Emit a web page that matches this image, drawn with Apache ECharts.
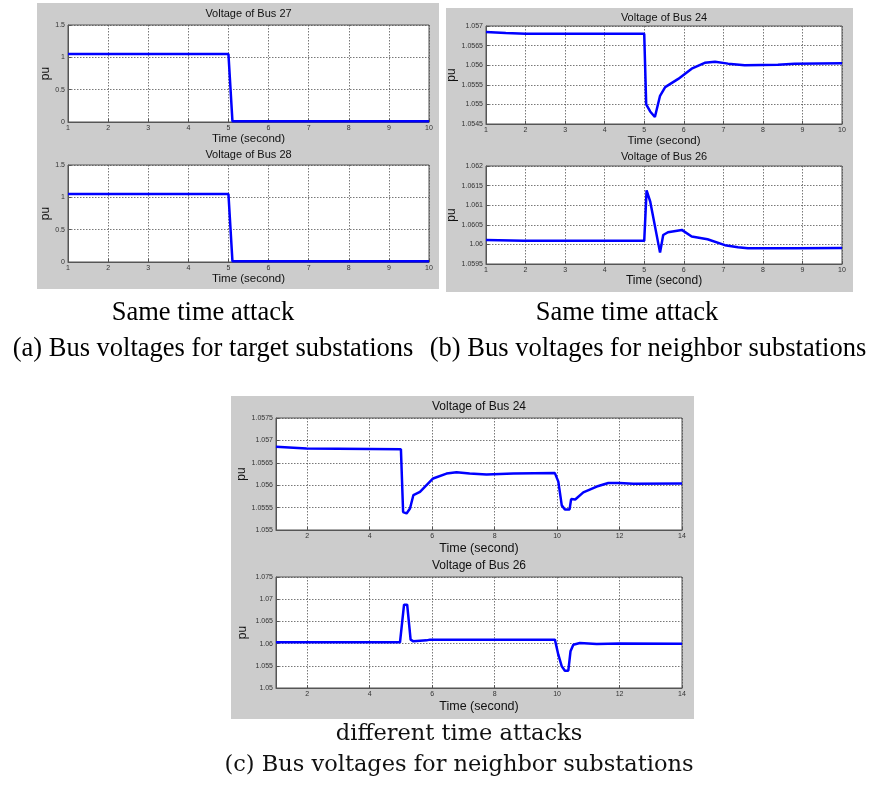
<!DOCTYPE html>
<html>
<head>
<meta charset="utf-8">
<script src="https://cdn.jsdelivr.net/npm/echarts@6/dist/echarts.min.js"></script>
<style>
html,body{margin:0;padding:0;background:#fff;}
#chart{width:873px;height:785px;}
</style>
</head>
<body>
<div id="chart"></div>
<script>
// ---- data ----
const bus27Time = [1, 5.0, 5.1, 10];
const bus27Volt = [1.05, 1.05, 0.01, 0.01];
const bus28Time = [1, 5.0, 5.1, 10];
const bus28Volt = [1.05, 1.05, 0.01, 0.01];

const sameBus24Time = [1, 1.5, 2, 5.0, 5.05, 5.15, 5.27, 5.4, 5.53, 5.86, 6.2, 6.53, 6.79, 7.12, 7.54, 8.38, 8.8, 10];
const sameBus24Volt = [1.05685, 1.05682, 1.0568, 1.0568, 1.0550, 1.05482, 1.05468, 1.05522, 1.05544, 1.05565, 1.05591, 1.05606, 1.05609, 1.05604, 1.0560, 1.05601, 1.05604, 1.05605];

const sameBus26Time = [1, 1.95, 5.0, 5.06, 5.15, 5.4, 5.48, 5.6, 5.95, 6.2, 6.6, 7.04, 7.37, 7.62, 8.8, 10];
const sameBus26Volt = [1.06011, 1.06009, 1.06009, 1.06138, 1.0611, 1.05979, 1.06024, 1.06031, 1.06037, 1.0602, 1.06013, 1.05998, 1.05993, 1.0599, 1.0599, 1.05991];

const diffBus24Time = [1, 1.98, 5.0, 5.07, 5.18, 5.29, 5.4, 5.61, 6.03, 6.46, 6.78, 7.2, 7.74, 8.6, 9.93, 10.04, 10.15, 10.25, 10.4, 10.45, 10.58, 10.84, 11.27, 11.64, 12.0, 12.44, 14];
const diffBus24Volt = [1.05686, 1.05682, 1.0568, 1.0554, 1.05537, 1.05548, 1.05578, 1.05585, 1.05615, 1.05626, 1.05629, 1.05626, 1.05624, 1.05626, 1.05627, 1.05608, 1.05555, 1.05546, 1.05546, 1.05569, 1.05568, 1.05584, 1.05597, 1.05605, 1.05605, 1.05603, 1.05604];

const diffBus26Time = [1, 4.97, 5.1, 5.2, 5.31, 5.4, 5.82, 5.93, 9.93, 10.04, 10.15, 10.25, 10.36, 10.43, 10.52, 10.73, 11.27, 12.0, 14];
const diffBus26Volt = [1.0603, 1.0603, 1.06877, 1.06877, 1.06089, 1.06051, 1.06073, 1.06089, 1.06089, 1.0575, 1.05488, 1.0539, 1.0539, 1.05826, 1.05976, 1.06014, 1.05991, 1.06, 1.05998];

const titles = ['Voltage of Bus 27', 'Voltage of Bus 28', 'Voltage of Bus 24', 'Voltage of Bus 26', 'Voltage of Bus 24', 'Voltage of Bus 26'];
const xLabelText = 'Time (second)';
const yLabelText = 'pu';
const captionSame = 'Same time attack';
const captionA = '(a) Bus voltages for target substations';
const captionB = '(b) Bus voltages for neighbor substations';
const captionDiff = 'different time attacks';
const captionC = '(c) Bus voltages for neighbor substations';

// y-axis ranges [min, max, interval]
const yRanges = [[0, 1.5, 0.5], [0, 1.5, 0.5], [1.0545, 1.057, 0.0005], [1.0595, 1.062, 0.0005], [1.055, 1.0575, 0.0005], [1.05, 1.075, 0.005]];

// ---- layout ----
const grids = [
  {left: 68, top: 25, width: 361, height: 97},
  {left: 68, top: 165, width: 361, height: 97},
  {left: 486, top: 26, width: 356, height: 98},
  {left: 486, top: 166, width: 356, height: 98},
  {left: 276, top: 418, width: 406, height: 112},
  {left: 276, top: 577, width: 406, height: 111}
];
const titleY = [14, 155, 18, 157, 407, 566];
const yNameGap = [16, 16, 22, 22, 27, 27];
const xNameGap = [9, 10, 9, 11, 12, 12];
const titleSize = [11, 11, 11, 11, 12, 12];
const nameSize = [11.5, 11.5, 11.5, 12, 12.5, 12.5];

function zip(a, b) { return a.map((v, i) => [v, b[i]]); }
const seriesData = [
  zip(bus27Time, bus27Volt), zip(bus28Time, bus28Volt),
  zip(sameBus24Time, sameBus24Volt), zip(sameBus26Time, sameBus26Volt),
  zip(diffBus24Time, diffBus24Volt), zip(diffBus26Time, diffBus26Volt)
];

const fmtY = v => String(parseFloat(v.toFixed(6)));
const gridLine = {show: true, lineStyle: {color: '#555', type: [1.5, 1.5], width: 0.8}};

const xAxes = [], yAxes = [], series = [];
for (let i = 0; i < 6; i++) {
  const isC = i >= 4;
  const x = {
    type: 'value', gridIndex: i, min: 1, max: isC ? 14 : 10,
    name: xLabelText, nameLocation: 'middle', nameGap: xNameGap[i],
    nameTextStyle: {fontFamily: 'Liberation Sans', fontSize: nameSize[i], color: '#111'},
    axisLine: {show: true, onZero: false, lineStyle: {color: '#555'}},
    axisTick: {show: true, inside: true, length: 3, lineStyle: {color: '#555'}},
    axisLabel: {fontFamily: 'Liberation Sans', fontSize: 7, color: '#333', margin: 3,
      formatter: isC ? (v => (v === 1 ? '' : String(v))) : (v => String(v)), showMinLabel: true, showMaxLabel: true},
    splitLine: gridLine
  };
  if (isC) { x.splitNumber = 6; } else { x.interval = 1; }
  xAxes.push(x);
  yAxes.push({
    type: 'value', gridIndex: i, min: yRanges[i][0], max: yRanges[i][1], interval: yRanges[i][2],
    name: yLabelText, nameLocation: 'middle', nameGap: yNameGap[i], nameRotate: 90,
    nameTextStyle: {fontFamily: 'Liberation Sans', fontSize: 12, color: '#111'},
    axisLine: {show: true, lineStyle: {color: '#555'}},
    axisTick: {show: true, inside: true, length: 3, lineStyle: {color: '#555'}},
    axisLabel: {fontFamily: 'Liberation Sans', fontSize: 7, color: '#333', margin: 3, formatter: fmtY},
    splitLine: gridLine
  });
  series.push({
    type: 'line', xAxisIndex: i, yAxisIndex: i, data: seriesData[i],
    showSymbol: false, symbol: 'none', animation: false,
    lineStyle: {color: '#0000ff', width: 2.5}
  });
}

const graphics = [
  {type: 'rect', z: -10, shape: {x: 37, y: 3, width: 402, height: 286}, style: {fill: '#cccccc'}},
  {type: 'rect', z: -10, shape: {x: 446, y: 8, width: 407, height: 284}, style: {fill: '#cccccc'}},
  {type: 'rect', z: -10, shape: {x: 231, y: 396, width: 463, height: 323}, style: {fill: '#cccccc'}}
];
for (let i = 0; i < 6; i++) {
  const g = grids[i];
  graphics.push({type: 'text', z: 10, x: g.left + g.width / 2, y: titleY[i],
    style: {text: titles[i], align: 'center', verticalAlign: 'middle', fill: '#111',
      font: titleSize[i] + 'px "Liberation Sans"'}});
}
const capFont = '26.5px "Liberation Serif"';
const capFontC = '22.5px "DejaVu Serif"';
graphics.push(
  {type: 'text', x: 203, y: 313, style: {text: captionSame, align: 'center', verticalAlign: 'middle', fill: '#000', font: capFont}},
  {type: 'text', x: 627, y: 313, style: {text: captionSame, align: 'center', verticalAlign: 'middle', fill: '#000', font: capFont}},
  {type: 'text', x: 213, y: 349, style: {text: captionA, align: 'center', verticalAlign: 'middle', fill: '#000', font: capFont}},
  {type: 'text', x: 648, y: 349, style: {text: captionB, align: 'center', verticalAlign: 'middle', fill: '#000', font: capFont}},
  {type: 'text', x: 459, y: 734, style: {text: captionDiff, align: 'center', verticalAlign: 'middle', fill: '#111', font: capFontC}},
  {type: 'text', x: 459, y: 765, style: {text: captionC, align: 'center', verticalAlign: 'middle', fill: '#111', font: capFontC}}
);

const chart = echarts.init(document.getElementById('chart'), null, {renderer: 'canvas'});
chart.setOption({
  animation: false,
  backgroundColor: '#ffffff',
  grid: grids.map(g => Object.assign({show: true, backgroundColor: '#ffffff', borderColor: '#555', borderWidth: 1, containLabel: false}, g)),
  xAxis: xAxes,
  yAxis: yAxes,
  series: series,
  graphic: graphics
});
</script>
</body>
</html>
